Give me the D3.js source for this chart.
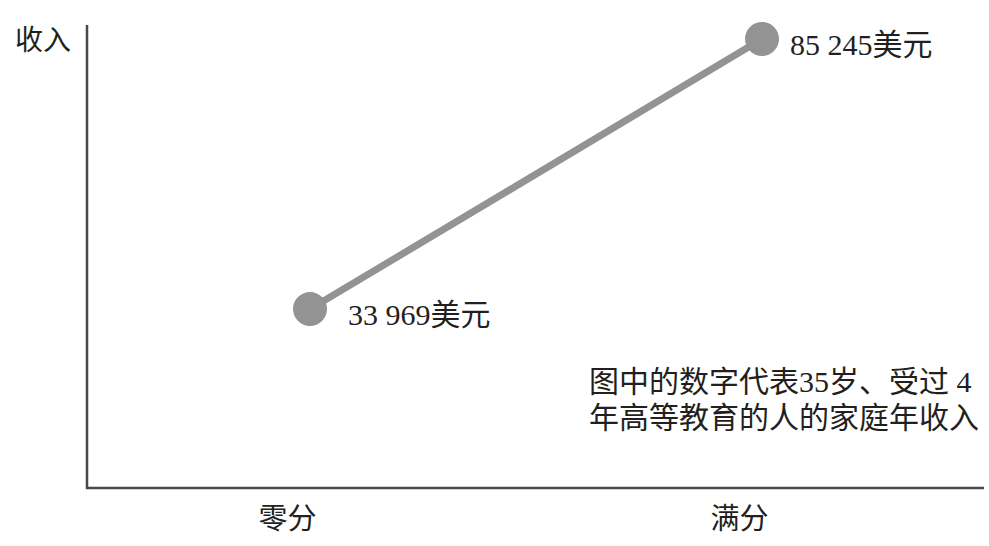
<!DOCTYPE html>
<html>
<head>
<meta charset="utf-8">
<script src="https://cdn.jsdelivr.net/npm/d3@7"></script>
<style>
  body { margin: 0; background: #fff; }
  text { font-family: "Liberation Serif", "Noto Sans CJK SC", serif; fill: #231f20; }
</style>
</head>
<body>
<svg id="chart" width="989" height="546"></svg>
<script>
// scores and household incomes (USD)
var categories = ['零分', '满分'];
var incomes = [33969, 85245];
var valueLabels = ['33 969美元', '85 245美元'];
var yLabel = '收入';
var noteLines = ['图中的数字代表35岁、受过 4', '年高等教育的人的家庭年收入'];

var svg = d3.select('#chart');
var axisColor = '#4a4a4a';
var lineColor = '#939393';

var x = d3.scalePoint()
    .domain(categories)
    .range([310, 762]);

var y = d3.scaleLinear()
    .domain([0, 90000])
    .range([488, 14]);

// axes as plain lines
svg.append('line')
    .attr('x1', 87).attr('x2', 87)
    .attr('y1', 25).attr('y2', 489)
    .style('stroke', axisColor)
    .style('stroke-width', 2.5);

svg.append('line')
    .attr('x1', 86).attr('x2', 984)
    .attr('y1', 488).attr('y2', 488)
    .style('stroke', axisColor)
    .style('stroke-width', 2.5);

// category labels, sit a little left of the dots
var xAxis = svg.append('g')
    .attr('transform', 'translate(0,488)')
    .call(d3.axisBottom(x).tickSize(0).tickPadding(0));
xAxis.select('.domain').remove();
xAxis.selectAll('text')
    .attr('dx', -23)
    .attr('y', 41)
    .attr('dy', 0)
    .style('font-size', '29px')
    .style('font-family', '"Liberation Serif", "Noto Sans CJK SC", serif')
    .style('fill', '#231f20');

svg.append('text')
    .attr('x', 15)
    .attr('y', 50)
    .style('font-size', '28px')
    .text(yLabel);

var pts = categories.map(function(c, i) {
  return { cat: c, val: incomes[i], label: valueLabels[i] };
});

svg.append('path')
    .datum(pts)
    .attr('d', d3.line()
      .x(function(d) { return x(d.cat); })
      .y(function(d) { return y(d.val); }))
    .style('fill', 'none')
    .style('stroke', lineColor)
    .style('stroke-width', 7);

svg.selectAll('circle.dot')
    .data(pts)
    .enter()
    .append('circle')
    .classed('dot', true)
    .attr('cx', function(d) { return x(d.cat); })
    .attr('cy', function(d) { return y(d.val); })
    .attr('r', 17)
    .style('fill', lineColor);

svg.selectAll('text.val')
    .data(pts)
    .enter()
    .append('text')
    .classed('val', true)
    .attr('x', function(d, i) { return x(d.cat) + (i == 0 ? 38 : 28); })
    .attr('y', function(d) { return y(d.val) + 16; })
    .style('font-size', '30px')
    .text(function(d) { return d.label; });

svg.selectAll('text.note')
    .data(noteLines)
    .enter()
    .append('text')
    .classed('note', true)
    .attr('x', 589)
    .attr('y', function(d, i) { return 392 + i * 36; })
    .style('font-size', '30px')
    .text(function(d) { return d; });
</script>
</body>
</html>
